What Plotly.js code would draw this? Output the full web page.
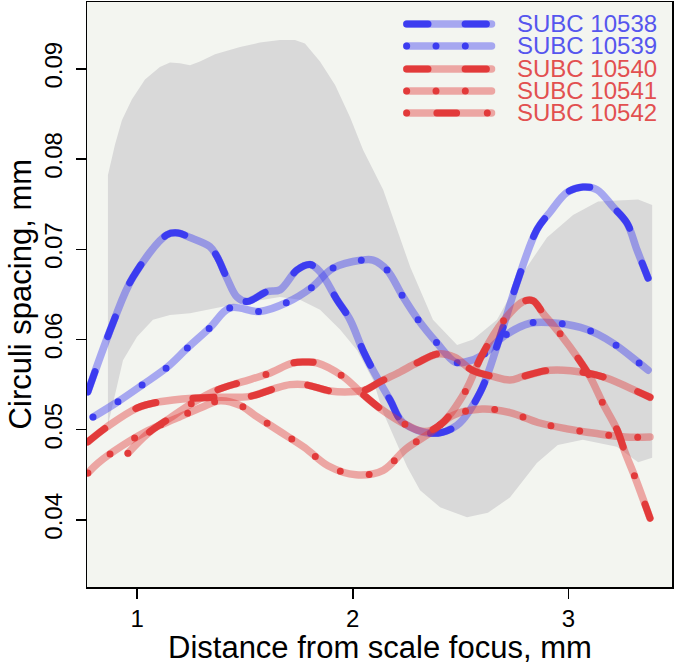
<!DOCTYPE html>
<html><head><meta charset="utf-8">
<script src="https://cdn.plot.ly/plotly-3.0.1.min.js"></script>
<style>
html,body{margin:0;padding:0;background:#ffffff;}
#chart .js-line{stroke-linecap:round;}
</style>
</head><body><div id="chart" style="width:675px;height:669px;"></div>
<script>
// ---------------- data ----------------
const seriesNames = ['SUBC 10538','SUBC 10539','SUBC 10540','SUBC 10541','SUBC 10542'];
const xTitle = 'Distance from scale focus, mm';
const yTitle = 'Circuli spacing, mm';

const x10538 = [0.771,0.887,0.980,1.138,1.189,1.245,1.337,1.370,1.416,1.463,1.509,1.602,1.662,1.741,1.802,1.848,1.927,1.987,2.047,2.094,2.173,2.233,2.372,2.484,2.590,2.683,2.762,2.855,2.915,2.994,3.068,3.133,3.207,3.272,3.319,3.370];
const y10538 = [0.0542,0.0618,0.0669,0.0716,0.0718,0.0713,0.0703,0.0692,0.0668,0.0647,0.0642,0.0653,0.0655,0.0677,0.0683,0.0675,0.0644,0.0622,0.0588,0.0566,0.0533,0.0508,0.0496,0.0505,0.0541,0.0603,0.0663,0.0722,0.0741,0.0763,0.0769,0.0766,0.0747,0.0729,0.0699,0.0668];

const x10539 = [0.795,0.910,1.026,1.138,1.235,1.337,1.430,1.569,1.694,1.811,1.908,2.043,2.094,2.159,2.229,2.303,2.391,2.474,2.521,2.604,2.697,2.822,2.952,3.087,3.207,3.323,3.370];
const y10539 = [0.0514,0.0531,0.0550,0.0569,0.0591,0.0613,0.0635,0.0631,0.0641,0.0658,0.0679,0.0688,0.0688,0.0677,0.0649,0.0622,0.0596,0.0575,0.0575,0.0583,0.0603,0.0618,0.0618,0.0611,0.0596,0.0575,0.0566];

const x10540 = [0.771,0.859,0.999,1.105,1.258,1.370,1.523,1.630,1.709,1.778,1.894,1.987,2.057,2.126,2.219,2.298,2.395,2.474,2.553,2.650,2.729,2.790,2.915,3.087,3.180,3.324,3.379];
const y10540 = [0.04865,0.0503,0.0524,0.0531,0.0535,0.0536,0.0537,0.0545,0.0550,0.0550,0.0543,0.0542,0.0544,0.0553,0.0564,0.0574,0.0584,0.0580,0.0566,0.0559,0.0555,0.0559,0.0566,0.0563,0.0557,0.0542,0.0536];

const x10541 = [0.771,0.818,0.929,1.050,1.175,1.300,1.384,1.477,1.546,1.662,1.778,1.885,2.015,2.141,2.243,2.368,2.465,2.600,2.729,2.859,2.994,3.124,3.263,3.379];
const y10541 = [0.0452,0.0463,0.0482,0.0499,0.0512,0.0525,0.0532,0.0527,0.0516,0.0498,0.0480,0.0460,0.0450,0.0455,0.0478,0.0498,0.0516,0.0523,0.0519,0.0508,0.0501,0.0496,0.0492,0.0492];

const x10542 = [0.957,1.050,1.152,1.259,1.370,1.486,1.607,1.723,1.778,1.834,1.955,2.048,2.136,2.252,2.335,2.409,2.521,2.600,2.697,2.790,2.836,2.883,2.966,3.040,3.100,3.161,3.226,3.263,3.310,3.379];
const y10542 = [0.0474,0.0496,0.0513,0.0530,0.0544,0.0553,0.0562,0.0574,0.0575,0.0574,0.0559,0.0539,0.0522,0.0505,0.0498,0.0506,0.0542,0.0583,0.0620,0.0642,0.0643,0.0629,0.0605,0.0581,0.0559,0.0529,0.0500,0.0475,0.0447,0.0402];

const bandUpperX = [0.864,0.897,0.929,0.975,1.036,1.105,1.152,1.198,1.245,1.291,1.361,1.477,1.569,1.662,1.732,1.778,1.848,1.918,1.988,2.048,2.141,2.267,2.372,2.484,2.558,2.669,2.790,2.901,3.022,3.138,3.324,3.389];
const bandUpperY = [0.0782,0.0816,0.0843,0.0866,0.0888,0.0902,0.0907,0.0906,0.0904,0.0908,0.0916,0.0924,0.0929,0.0932,0.0932,0.0928,0.0908,0.0882,0.0846,0.0810,0.0766,0.0680,0.0622,0.0594,0.0600,0.0622,0.0674,0.0713,0.0738,0.0753,0.0755,0.0749];
const bandLowerX = [0.864,0.897,0.934,0.999,1.073,1.152,1.245,1.430,1.662,1.755,1.848,1.941,2.020,2.094,2.141,2.252,2.312,2.405,2.530,2.627,2.729,2.854,2.951,3.067,3.225,3.324,3.389];
const bandLowerY = [0.0505,0.0539,0.0577,0.0603,0.0622,0.0627,0.0629,0.0638,0.0647,0.0644,0.0633,0.0611,0.0588,0.0555,0.0519,0.0459,0.0433,0.0414,0.0403,0.0408,0.0425,0.0463,0.0483,0.0489,0.0481,0.0464,0.0469];

const xTickVals = [1,2,3];
const yTickVals = [0.04,0.05,0.06,0.07,0.08,0.09];

// ---------------- styles ----------------
const FONT = 'Liberation Sans, Arial, Helvetica, sans-serif';
const BLUE = '#3c3cf0', BLUE_LIGHT = 'rgba(60,60,240,0.42)', BLUE_TEXT = '#5656ee';
const RED = '#e23a3a', RED_LIGHT = 'rgba(226,58,58,0.42)', RED_TEXT = '#e25050';
const DASH_LONG = '21.3px,37.1px';
const DASH_DOT = '0px,29.3px';
const DASH_DOTDASH = '0px,30.2px,19.7px,30.7px';
const W_BG = 7.5, W_FG = 7;

const series = [
  {x:x10538, y:y10538, c:BLUE, l:BLUE_LIGHT, t:BLUE_TEXT, d:DASH_LONG},
  {x:x10539, y:y10539, c:BLUE, l:BLUE_LIGHT, t:BLUE_TEXT, d:DASH_DOT},
  {x:x10540, y:y10540, c:RED,  l:RED_LIGHT,  t:RED_TEXT,  d:DASH_LONG},
  {x:x10541, y:y10541, c:RED,  l:RED_LIGHT,  t:RED_TEXT,  d:DASH_DOT},
  {x:x10542, y:y10542, c:RED,  l:RED_LIGHT,  t:RED_TEXT,  d:DASH_DOTDASH}
];

// legend geometry (fractions of plot area)
const LEG_X = [0.5465, 0.6915];
const LEG_ROWS = [0.9624, 0.9248, 0.8855, 0.8479, 0.8103];
const LEG_TEXT_X = 0.7316;

const traces = [];
traces.push({
  x: bandUpperX.concat(bandLowerX.slice().reverse()),
  y: bandUpperY.concat(bandLowerY.slice().reverse()),
  mode:'lines', fill:'toself', fillcolor:'#d9d9d9',
  line:{width:0, color:'#d9d9d9'}, hoverinfo:'skip', showlegend:false
});
series.forEach((s,i)=>{
  traces.push({x:s.x, y:s.y, mode:'lines', line:{color:s.l, width:W_BG, shape:'spline', smoothing:1}, showlegend:false, name:seriesNames[i]});
  traces.push({x:s.x, y:s.y, mode:'lines', line:{color:s.c, width:W_FG, shape:'spline', smoothing:1, dash:s.d}, showlegend:false, name:seriesNames[i]});
});
// legend samples + axis titles
const annotations = [];
series.forEach((s,i)=>{
  const r = LEG_ROWS[i];
  traces.push({x:LEG_X, y:[r,r], xaxis:'x2', yaxis:'y2', mode:'lines', line:{color:s.l, width:W_BG}, showlegend:false, hoverinfo:'skip'});
  traces.push({x:LEG_X, y:[r,r], xaxis:'x2', yaxis:'y2', mode:'lines', line:{color:s.c, width:W_FG, dash:s.d}, showlegend:false, hoverinfo:'skip'});
  annotations.push({xref:'paper', yref:'paper', x:LEG_TEXT_X, y:r, xanchor:'left', yanchor:'middle', showarrow:false,
    text:seriesNames[i], font:{family:FONT, size:24, color:s.t}});
});
annotations.push({xref:'paper', yref:'paper', x:0.5, y:-0.1026, xanchor:'center', yanchor:'middle', showarrow:false,
  text:xTitle, font:{family:FONT, size:31, color:'#000'}});
annotations.push({xref:'paper', yref:'paper', x:-0.113, y:0.5, xanchor:'center', yanchor:'middle', showarrow:false,
  textangle:-90, text:yTitle, font:{family:FONT, size:31, color:'#000'}});

const layout = {
  width:675, height:669,
  margin:{l:87, r:3, t:2, b:82},
  paper_bgcolor:'#ffffff', plot_bgcolor:'#f3f5f0',
  showlegend:false,
  font:{family:FONT, color:'#000'},
  xaxis:{
    range:[0.767,3.481], tickvals:xTickVals, ticks:'outside', ticklen:10, tickwidth:1.5, tickcolor:'#000',
    showline:true, mirror:true, linecolor:'#000', linewidth:1.5, showgrid:false, zeroline:false,
    tickfont:{family:FONT, size:24, color:'#000'},
    automargin:false
  },
  yaxis:{
    range:[0.03257,0.0974], tickvals:yTickVals, tickformat:'.2f', ticks:'outside', ticklen:10, tickwidth:1.5, tickcolor:'#000',
    tickangle:-90, ticklabelstandoff:4,
    showline:true, mirror:true, linecolor:'#000', linewidth:1.5, showgrid:false, zeroline:false,
    tickfont:{family:FONT, size:24, color:'#000'},
    automargin:false
  },
  xaxis2:{overlaying:'x', range:[0,1], visible:false, fixedrange:true},
  yaxis2:{overlaying:'y', range:[0,1], visible:false, fixedrange:true},
  annotations: annotations
};

Plotly.newPlot('chart', traces, layout, {staticPlot:true, displayModeBar:false});
</script>
</body></html>
